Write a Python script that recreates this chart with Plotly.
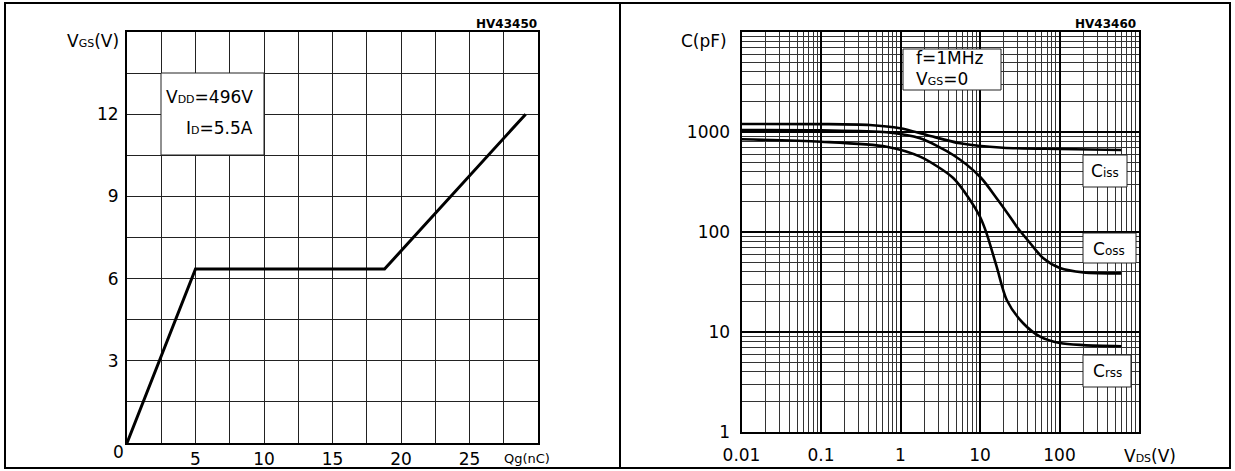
import plotly.graph_objects as go

W, H = 1235, 471
FONT = "DejaVu Sans"

# ---------------- left chart: gate charge ----------------
qg_nc = [0.0, 5.0, 18.8, 29.1]
vgs_v = [0.0, 6.35, 6.35, 12.0]
qg_ticks = [0, 2.5, 5, 7.5, 10, 12.5, 15, 17.5, 20, 22.5, 25, 27.5, 30]
qg_labels = ["", "", "5", "", "10", "", "15", "", "20", "", "25", "", ""]
vgs_ticks = [0, 1.5, 3, 4.5, 6, 7.5, 9, 10.5, 12, 13.5, 15]
vgs_labels = ["", "", "3", "", "6", "", "9", "", "12", "", ""]

# ---------------- right chart: capacitance ----------------
ciss_vds = [0.01, 0.1, 0.41, 0.99, 2.14, 5.6, 19.5, 100, 600]
ciss_pf = [1202, 1200, 1175, 1089, 933, 771, 697, 676, 661]
coss_vds = [0.01, 0.1, 0.67, 1.76, 4.6, 10, 16.8, 23.8, 29, 42.6, 62, 101, 200, 600]
coss_pf = [1047, 1040, 993, 864, 589, 357, 209, 142, 113, 77.6, 55, 43.7, 39.5, 38.6]
crss_vds = [0.01, 0.1, 0.67, 1.76, 4.6, 7.5, 10, 12.1, 16.2, 21.7, 34.7, 57, 101, 200, 600]
crss_pf = [845, 800, 713, 567, 347, 209, 142, 97, 45, 20.9, 12.3, 9.0, 7.76, 7.4, 7.2]
vds_ticks = [0.01, 0.1, 1, 10, 100, 1000]
vds_labels = ["0.01", "0.1", "1", "10", "100", ""]
c_ticks = [1, 10, 100, 1000, 10000]
c_labels = ["1", "10", "100", "1000", ""]
vds_minor = [k * 10.0 ** d for d in range(-2, 3) for k in range(2, 10)]
c_minor = [k * 10.0 ** d for d in range(0, 4) for k in range(2, 10)]


def px(x):
    return x / W


def py(y):
    return 1 - y / H


def small(t, s=11):
    return f'<span style="font-size:{s}px">{t}</span>'


fig = go.Figure()
fig.add_trace(go.Scatter(x=qg_nc, y=vgs_v, mode="lines",
                         line=dict(color="black", width=3), xaxis="x", yaxis="y"))
for xs, ys in [(ciss_vds, ciss_pf), (coss_vds, coss_pf), (crss_vds, crss_pf)]:
    fig.add_trace(go.Scatter(x=xs, y=ys, mode="lines",
                             line=dict(color="black", width=2.6, shape="spline", smoothing=0.8),
                             xaxis="x2", yaxis="y2"))

common = dict(showgrid=True, showline=True, mirror=True, linecolor="black", linewidth=2,
              zeroline=False, ticks="", tickmode="array", fixedrange=True,
              tickfont=dict(size=17, color="black", family=FONT))

fig.update_layout(
    width=W, height=H, template="none",
    margin=dict(l=0, r=0, t=0, b=0, pad=0),
    paper_bgcolor="white", plot_bgcolor="white", showlegend=False,
    font=dict(family=FONT, color="black"),
    xaxis=dict(domain=[px(127), px(538)], range=[0, 30], tickvals=qg_ticks, ticktext=qg_labels,
               gridcolor="#222", gridwidth=1, anchor="y", ticklabelstandoff=0, **common),
    yaxis=dict(domain=[py(443), py(32)], range=[0, 15], tickvals=vgs_ticks, ticktext=vgs_labels,
               gridcolor="#222", gridwidth=1, anchor="x", ticklabelstandoff=3, **common),
    xaxis2=dict(domain=[px(741.5), px(1139)], type="log", range=[-2, 3], tickvals=vds_ticks,
                ticktext=vds_labels, gridcolor="black", gridwidth=1.5, anchor="y2",
                ticklabelstandoff=7,
                minor=dict(tickmode="array", tickvals=vds_minor, showgrid=True,
                           gridcolor="#333", gridwidth=1, ticks=""),
                **common),
    yaxis2=dict(domain=[py(432), py(32)], type="log", range=[0, 4], tickvals=c_ticks,
                ticktext=c_labels, gridcolor="black", gridwidth=2, anchor="x2",
                ticklabelstandoff=6,
                minor=dict(tickmode="array", tickvals=c_minor, showgrid=True,
                           gridcolor="#333", gridwidth=1, ticks=""),
                **common),
)

shapes = [
    dict(type="rect", xref="paper", yref="paper", x0=px(5), x1=px(1230), y0=py(468), y1=py(3),
         line=dict(color="black", width=2), layer="above"),
    dict(type="line", xref="paper", yref="paper", x0=px(620), x1=px(620), y0=py(468), y1=py(3),
         line=dict(color="black", width=2), layer="above"),
]
boxes = [(161, 264, 73, 155), (903, 1001, 49, 90), (1083, 1127, 155, 187),
         (1083, 1136, 233, 263), (1083, 1131, 355, 387)]
for x0, x1, y0, y1 in boxes:
    shapes.append(dict(type="rect", xref="paper", yref="paper", x0=px(x0), x1=px(x1),
                       y0=py(y1), y1=py(y0), fillcolor="white",
                       line=dict(color="#222", width=1), layer="above"))
fig.update_layout(shapes=shapes)


def ann(text, x, y, size=17, xanchor="center"):
    return dict(text=text, x=px(x), y=py(y), xref="paper", yref="paper", showarrow=False,
                xanchor=xanchor, yanchor="middle",
                font=dict(size=size, color="black", family=FONT))


annotations = [
    ann("V" + small("GS") + "(V)", 93, 41),
    ann("0", 118, 452),
    ann("Qg(nC)", 527, 458, size=13),
    ann("<b>HV43450</b>", 539, 24, size=12, xanchor="right"),
    ann("V" + small("DD") + "=496V", 255, 97, xanchor="right"),
    ann("I" + small("D") + "=5.5A", 255, 128, xanchor="right"),
    ann("C(pF)", 704, 41),
    ann("V" + small("DS") + "(V)", 1150, 456),
    ann("<b>HV43460</b>", 1138, 24, size=12, xanchor="right"),
    ann("f=1MHz", 914, 58, xanchor="left"),
    ann("V" + small("GS") + "=0", 914, 79, xanchor="left"),
    ann("C" + small("iss", 12), 1105, 171),
    ann("C" + small("oss", 12), 1109, 249),
    ann("C" + small("rss", 12), 1107, 371),
]
fig.update_layout(annotations=annotations)

fig.write_html("out.html")
